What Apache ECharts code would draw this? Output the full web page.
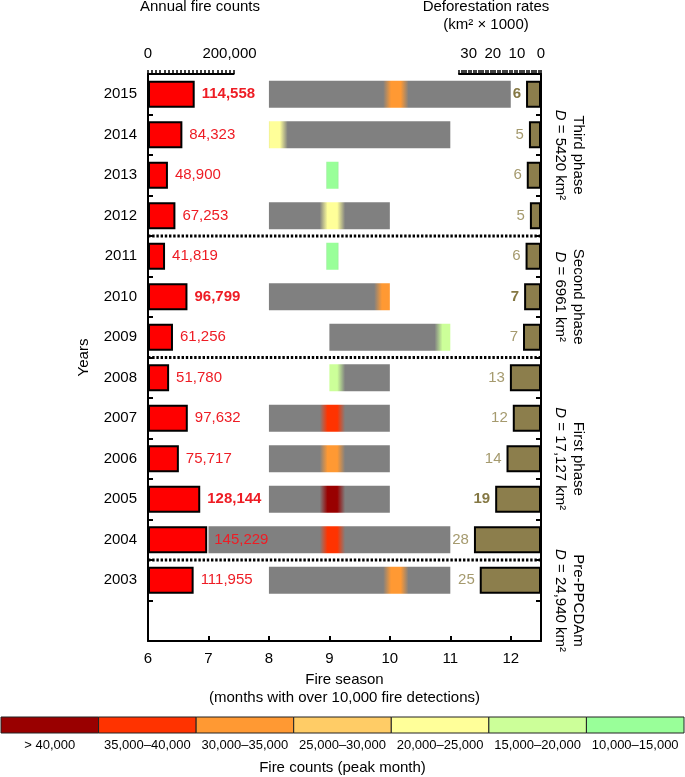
<!DOCTYPE html>
<html><head><meta charset="utf-8">
<script src="https://cdn.jsdelivr.net/npm/echarts@6/dist/echarts.min.js"></script>
<style>html,body{margin:0;padding:0;background:#fff}#c{width:685px;height:777px}</style>
</head><body><div id="c"></div>
<script>
// ---------------- data ----------------
const years = [2003,2004,2005,2006,2007,2008,2009,2010,2011,2012,2013,2014,2015];
const fireCounts = [111955,145229,128144,75717,97632,51780,61256,96799,41819,67253,48900,84323,114558];
const deforestation = [25.4,27.8,19.0,14.3,11.7,12.9,7.46,7.0,6.4,4.6,5.9,5.0,6.2]; // km2 x 1000
const seasonStart = [8,7,8,8,8,9,9,8,8.95,8,8.95,8,8];
const seasonEnd   = [11,11,10,10,10,10,11,10,9.15,10,9.15,11,12];
const seasonPeak  = [10.1,9.05,9.05,9.05,9.05,9.05,10.95,9.95,9.05,9.05,9.05,8.1,10.1];
const peakClass   = [2,1,0,2,1,5,5,2,6,4,6,4,2]; // index into legend classes
const boldYears = [2005,2010,2015];
const separatorYears = [2003,2008,2011]; // dotted line on top of these rows
const phaseNames = ['Third phase','Second phase','First phase','Pre-PPCDAm'];
const phaseD = ['5420','6961','17,127','24,940'];
const phaseFirstYear = [2012,2009,2004,2002];
const phaseLastYear  = [2015,2011,2008,2003];
const legendLabels = ['> 40,000','35,000–40,000','30,000–35,000','25,000–30,000','20,000–25,000','15,000–20,000','10,000–15,000'];
const fireTicks = [0,200000];
const deforTicks = [30,20,10,0];

// ---------------- styles ----------------
const legendColors = ['#990000','#ff3300','#ff9933','#ffcc66','#ffff99','#ccff99','#99ff99'];
const FONT = "'Liberation Sans', Arial, Helvetica, sans-serif";
const GREY = '#808080';
const RED_TEXT = '#ee1c24';
const OLIVE = '#8c7e4c';
const OLIVE_TEXT = '#a59a6e';
const OLIVE_TEXT_BOLD = '#857844';
const seasonMin = 6, seasonMax = 12.5;

const cats = [''].concat(years.map(String));
const idxOf = y => years.indexOf(y) + 1;
const fmt = v => String(v).replace(/\B(?=(\d{3})+(?!\d))/g, ',');

const fireData = ['-'].concat(fireCounts.map((v, i) => boldYears.includes(years[i])
  ? {value: v, label: {fontWeight: 'bold'}} : v));
const deforData = ['-'].concat(deforestation.map((v, i) => boldYears.includes(years[i])
  ? {value: v, label: {fontWeight: 'bold', color: OLIVE_TEXT_BOLD}} : v));
const seasonData = years.map((y, i) => [seasonStart[i], seasonEnd[i], seasonPeak[i], peakClass[i], idxOf(y)]);
const sepData = separatorYears.map(y => [seasonMin, idxOf(y)]);
const phaseData = phaseNames.map((n, i) => [seasonMin, idxOf(phaseFirstYear[i]), idxOf(phaseLastYear[i]), i]);
const legendData = legendLabels.map((l, i) => [i, 1]);

function renderSeason(params, api) {
  const s = api.value(0), e = api.value(1), p = api.value(2), cls = api.value(3), idx = api.value(4);
  const a = api.coord([s, idx]), b = api.coord([e, idx]);
  const h = api.size([0, 1])[1] * 0.667;
  const core = 0.08, fade = 0.13;
  const col = legendColors[cls];
  const w = m => { const d = Math.abs(m - p); return d <= core ? 1 : d >= core + fade ? 0 : 1 - (d - core) / fade; };
  let pts = [s, p - core - fade, p - core, p + core, p + core + fade, e].filter(m => m >= s && m <= e).sort((x, y) => x - y);
  const stops = pts.map(m => ({offset: (m - s) / (e - s), color: echarts.color.lerp(w(m), [GREY, col])}));
  return {
    type: 'rect',
    shape: {x: a[0], y: a[1] - h / 2, width: b[0] - a[0], height: h},
    style: {fill: {type: 'linear', x: 0, y: 0, x2: 1, y2: 0, colorStops: stops}}
  };
}

function renderSep(params, api) {
  const pt = api.coord([api.value(0), api.value(1)]);
  const band = api.size([0, 1])[1];
  const cs = params.coordSys;
  const y = pt[1] - band / 2;
  return {
    type: 'line',
    shape: {x1: cs.x, y1: y, x2: cs.x + cs.width, y2: y},
    style: {stroke: '#000', lineWidth: 2.8, lineDash: [2.4, 1.8]}
  };
}

function renderPhase(params, api) {
  const band = api.size([0, 1])[1];
  const lo = api.coord([api.value(0), api.value(1)])[1] + band / 2;
  const hi = api.coord([api.value(0), api.value(2)])[1] - band / 2;
  const i = api.value(3);
  const cs = params.coordSys;
  return {
    type: 'text',
    x: cs.x + cs.width + 28,
    y: (lo + hi) / 2,
    rotation: -Math.PI / 2,
    style: {
      text: phaseNames[i] + '\n{i|D} = ' + phaseD[i] + ' km²',
      rich: {i: {fontStyle: 'italic', fontSize: 15, fontFamily: FONT, lineHeight: 18}},
      fontSize: 15, fontFamily: FONT, fill: '#000', lineHeight: 18,
      align: 'center', verticalAlign: 'middle'
    }
  };
}

function renderLegend(params, api) {
  const i = api.value(0);
  const top = api.coord([i, api.value(1)]);
  const bot = api.coord([i, 0]);
  const bw = api.size([1, 0])[0];
  return {
    type: 'rect',
    shape: {x: top[0] - bw / 2, y: top[1], width: bw, height: bot[1] - top[1]},
    style: {fill: legendColors[i], stroke: '#222', lineWidth: 1}
  };
}

const blackLine = {show: true, lineStyle: {color: '#000', width: 2}};
const hiddenCat = g => ({type: 'category', gridIndex: g, data: cats, show: false});

const option = {
  animation: false,
  backgroundColor: '#fff',
  textStyle: {fontFamily: FONT},
  grid: [
    {left: 148, right: 144, top: 74, bottom: 136, outerBoundsMode: 'none'},
    {left: 148, right: 451.4, top: 74, bottom: 136, outerBoundsMode: 'none'},
    {left: 459, right: 144, top: 74, bottom: 136, outerBoundsMode: 'none'},
    {left: 1, right: 1, top: 717, bottom: 44, outerBoundsMode: 'none'}
  ],
  xAxis: [
    {type: 'value', gridIndex: 0, min: seasonMin, max: seasonMax, interval: 1, position: 'bottom',
     axisLine: blackLine,
     axisTick: {show: true, inside: true, length: 5, lineStyle: {color: '#000', width: 2}},
     axisLabel: {fontSize: 15, color: '#000', margin: 10, formatter: v => Number.isInteger(v) ? String(v) : ''},
     splitLine: {show: false},
     name: 'Fire season\n(months with over 10,000 fire detections)', nameLocation: 'middle', nameGap: 28,
     nameTextStyle: {fontSize: 15, color: '#000', lineHeight: 18}},
    {type: 'value', gridIndex: 1, min: 0, max: 210000, interval: 10000, position: 'top',
     axisLine: blackLine,
     axisTick: {show: true, length: 4, lineStyle: {color: '#000', width: 1.5}},
     axisLabel: {fontSize: 15, color: '#000', margin: 13, formatter: v => fireTicks.includes(v) ? fmt(v) : ''},
     splitLine: {show: false}},
    {type: 'value', gridIndex: 2, min: 0, max: 34, interval: 1, inverse: true, position: 'top',
     axisLine: blackLine,
     axisTick: {show: true, length: 4, lineStyle: {color: '#000', width: 1.5}},
     axisLabel: {fontSize: 15, color: '#000', margin: 13, formatter: v => deforTicks.includes(v) ? String(v) : ''},
     splitLine: {show: false}},
    {type: 'category', gridIndex: 3, data: legendLabels,
     axisLine: {show: false}, axisTick: {show: false},
     axisLabel: {fontSize: 13, color: '#000', margin: 6, interval: 0},
     name: 'Fire counts (peak month)', nameLocation: 'middle', nameGap: 27,
     nameTextStyle: {fontSize: 15, color: '#000'}}
  ],
  yAxis: [
    {type: 'category', gridIndex: 0, data: cats, position: 'left',
     axisLine: blackLine,
     axisTick: {show: true, inside: true, length: 5, lineStyle: {color: '#000', width: 2}},
     axisLabel: {fontSize: 15, color: '#000', margin: 11},
     name: 'Years', nameLocation: 'middle', nameGap: 57, nameRotate: 90,
     nameTextStyle: {fontSize: 15, color: '#000'}},
    {type: 'category', gridIndex: 0, data: cats, position: 'right',
     axisLine: blackLine,
     axisTick: {show: true, inside: true, length: 5, lineStyle: {color: '#000', width: 2}},
     axisLabel: {show: false}},
    hiddenCat(1), hiddenCat(2),
    {type: 'value', gridIndex: 3, min: 0, max: 1, show: false}
  ],
  series: [
    {type: 'custom', name: 'season', xAxisIndex: 0, yAxisIndex: 0, z: 1,
     encode: {x: [0, 1, 2], y: 4}, data: seasonData, renderItem: renderSeason},
    {type: 'custom', name: 'separators', xAxisIndex: 0, yAxisIndex: 0, z: 5,
     encode: {x: 0, y: 1}, data: sepData, renderItem: renderSep},
    {type: 'custom', name: 'phases', xAxisIndex: 0, yAxisIndex: 0, z: 5, clip: false,
     encode: {x: 0, y: [1, 2]}, data: phaseData, renderItem: renderPhase},
    {type: 'bar', name: 'fire', xAxisIndex: 1, yAxisIndex: 2, z: 3, barWidth: 27,
     itemStyle: {color: '#ff0000', borderColor: '#000', borderWidth: 2},
     label: {show: true, position: 'right', distance: 7, fontSize: 15, color: RED_TEXT,
             formatter: p => fmt(p.value)},
     data: fireData},
    {type: 'bar', name: 'deforestation', xAxisIndex: 2, yAxisIndex: 3, z: 3, barWidth: 27,
     itemStyle: {color: OLIVE, borderColor: '#000', borderWidth: 2},
     label: {show: true, position: 'left', distance: 5, fontSize: 15, color: OLIVE_TEXT,
             formatter: p => String(Math.round(p.value))},
     data: deforData},
    {type: 'custom', name: 'legend', xAxisIndex: 3, yAxisIndex: 4,
     encode: {x: 0, y: 1}, data: legendData, renderItem: renderLegend}
  ],
  graphic: [
    {type: 'text', x: 200, y: 7, style: {text: 'Annual fire counts', fontSize: 15, fontFamily: FONT, fill: '#000', align: 'center', verticalAlign: 'middle'}},
    {type: 'text', x: 486, y: 7, style: {text: 'Deforestation rates', fontSize: 15, fontFamily: FONT, fill: '#000', align: 'center', verticalAlign: 'middle'}},
    {type: 'text', x: 486, y: 25, style: {text: '(km² × 1000)', fontSize: 15, fontFamily: FONT, fill: '#000', align: 'center', verticalAlign: 'middle'}}
  ]
};

const chart = echarts.init(document.getElementById('c'));
chart.setOption(option);
</script>
</body></html>
